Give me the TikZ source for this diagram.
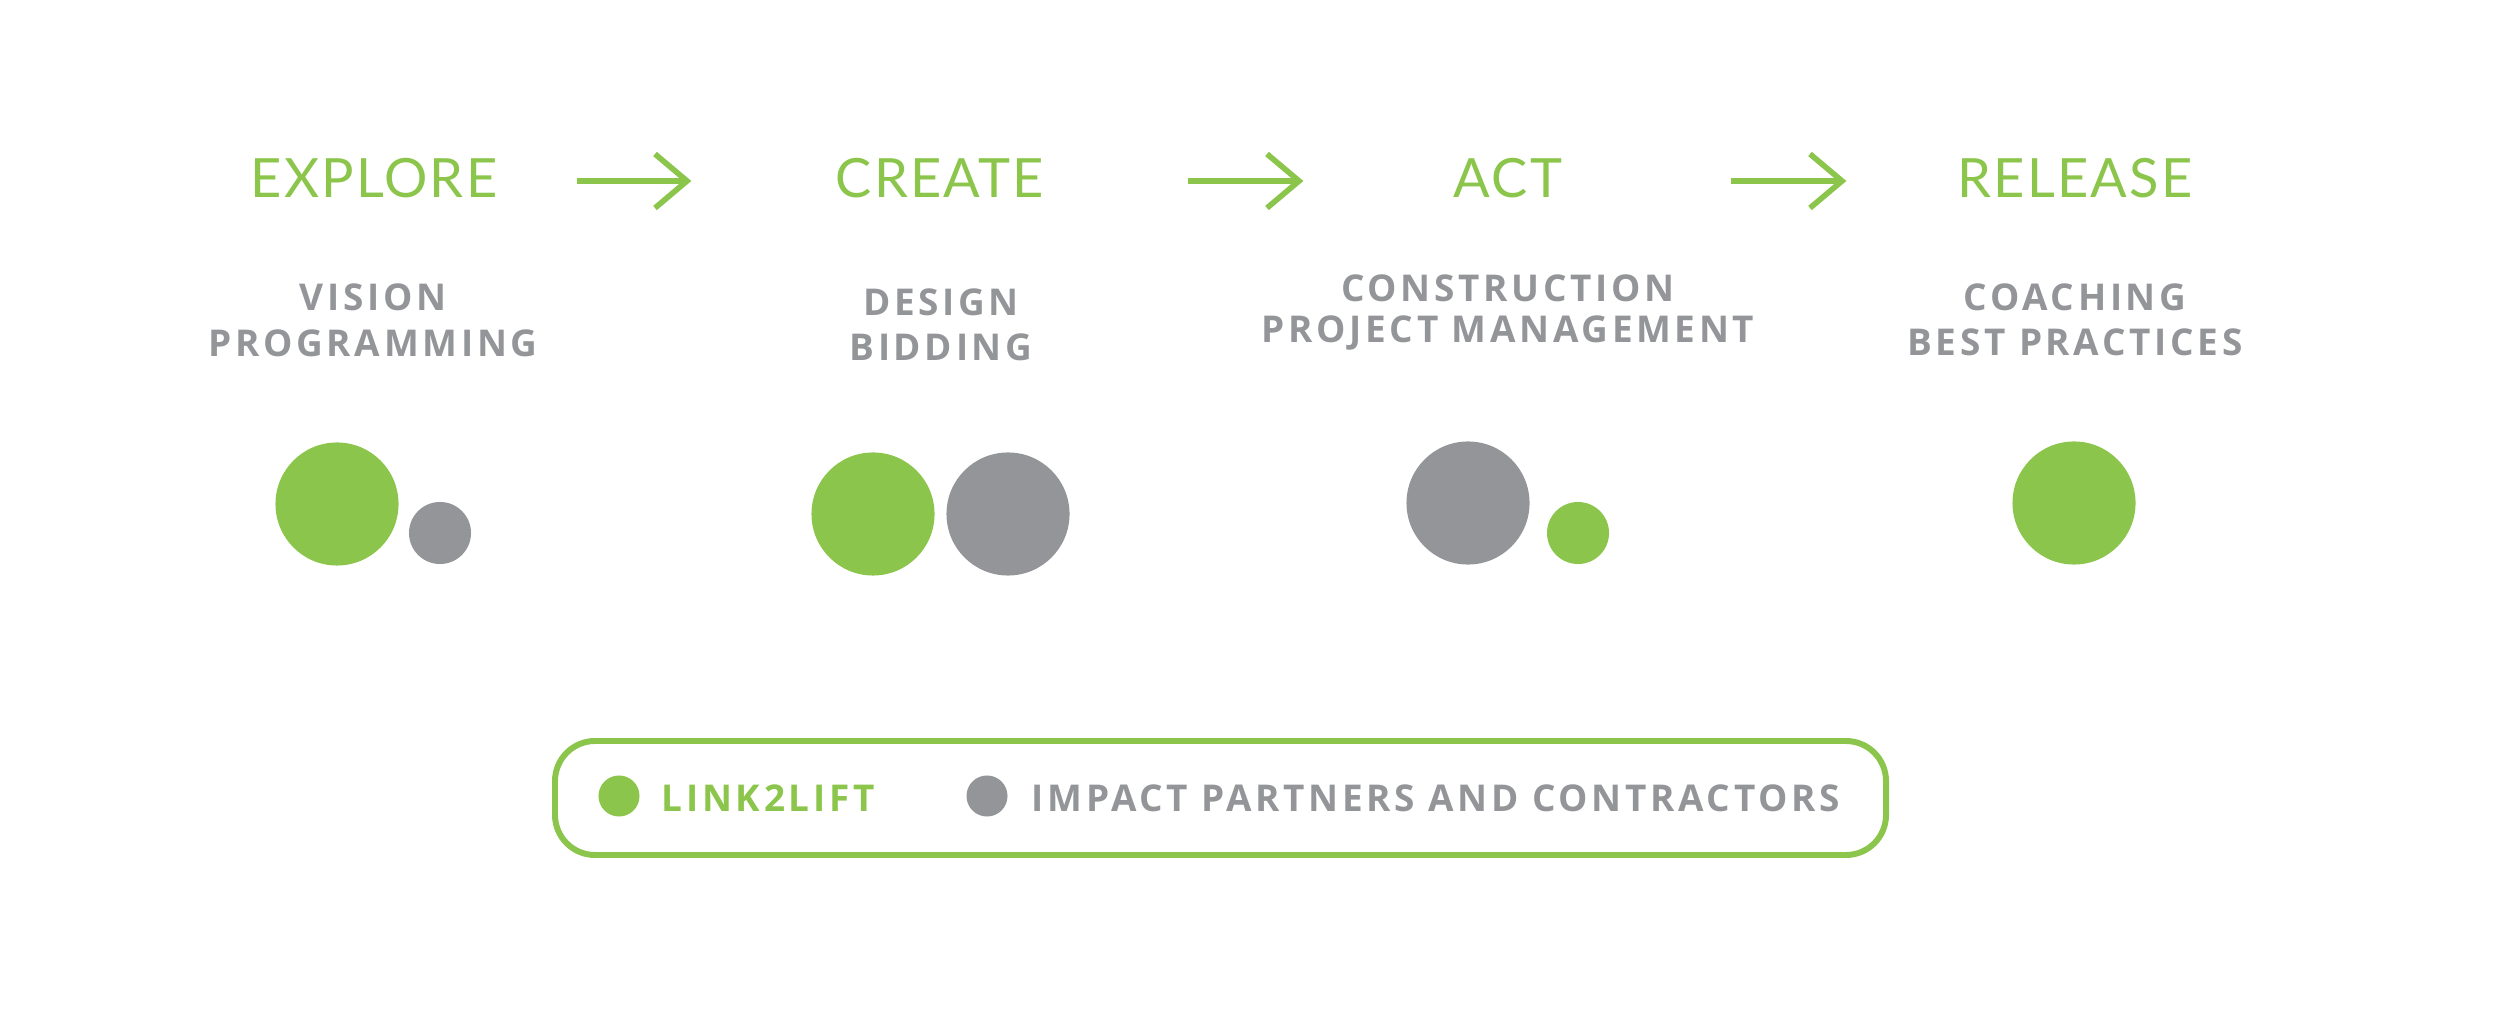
\documentclass[tikz,border=0pt]{standalone}
\usepackage{fontspec}
\usetikzlibrary{calc}
\setmainfont{Open Sans}
\newfontfamily\titlefont[LetterSpace=4]{Lato}
\newfontfamily\subfont[LetterSpace=10]{Open Sans}
\definecolor{lgreen}{HTML}{8CC54B}
\definecolor{lgrey}{HTML}{939598}
\tikzset{
 ttl/.style={text=lgreen,font=\titlefont\fontsize{15.4}{16}\selectfont,inner sep=0},
 sub/.style={text=lgrey,font=\subfont\bfseries\fontsize{10.5}{11}\selectfont,inner sep=0},
 leg/.style={font=\subfont\bfseries\fontsize{10.5}{11}\selectfont,inner sep=0,anchor=west},
 arr/.style={lgreen,line width=1.6pt},
 gdot/.style={circle,fill=lgreen,inner sep=0},
 sdot/.style={circle,fill=lgrey,inner sep=0}
}
\begin{document}
\begin{tikzpicture}[x=0.01cm,y=-0.01cm]
\useasboundingbox (0,0) rectangle (2500,1028);
\node[ttl] (t1) at (374,178) {EXPLORE};
\node[ttl] (t2) at (940,178) {CREATE};
\node[ttl] (t3) at (1508,178) {ACT};
\node[ttl] (t4) at (2075,178) {RELEASE};
\foreach \a/\b in {577/687,1188/1299,1731/1842}{
 \coordinate (s) at (\a,181); \coordinate (e) at (\b,181);
 \draw[arr] (s) -- (e);
 \draw[arr] ($(e)+(-32,-27)$) -- (e) -- ($(e)+(-32,27)$);
}
\node[sub] (v1) at (373,297) {VISION};
\node[sub] (v2) at (373,343) {PROGRAMMING};
\node[sub] (d1) at (941,302) {DESIGN};
\node[sub] (d2) at (941,347) {BIDDING};
\node[sub] (c1) at (1508,288) {CONSTRUCTION};
\node[sub] (c2) at (1508,333) {PROJECT MANAGEMENT};
\node[sub] (r1) at (2075,297) {COACHING};
\node[sub] (r2) at (2075,342) {BEST PRACTICES};
\node[gdot,minimum size=1.23cm] (a1) at (337,504) {};
\node[sdot,minimum size=0.62cm] (a2) at (440,533) {};
\node[gdot,minimum size=1.23cm] (b1) at (873,514) {};
\node[sdot,minimum size=1.23cm] (b2) at (1008,514) {};
\node[sdot,minimum size=1.23cm] (c3) at (1468,503) {};
\node[gdot,minimum size=0.62cm] (c4) at (1578,533) {};
\node[gdot,minimum size=1.23cm] (r3) at (2074,503) {};
\draw[lgreen,line width=1.7pt,rounded corners=0.4cm] (555,741) rectangle (1886,855);
\node[gdot,minimum size=0.41cm] (l1) at (619,796) {};
\node[leg,text=lgreen] (l1t) at (661,798) {LINK2LIFT};
\node[sdot,minimum size=0.41cm] (l2) at (987,796) {};
\node[leg,text=lgrey] (l2t) at (1031,798) {IMPACT PARTNERS AND CONTRACTORS};
\end{tikzpicture}
\end{document}
